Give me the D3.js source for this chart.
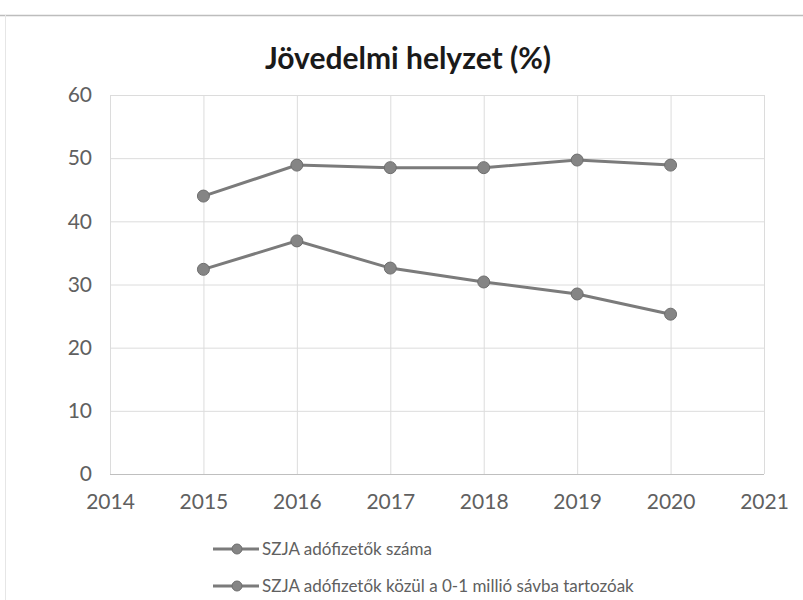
<!DOCTYPE html>
<html><head><meta charset="utf-8">
<script src="https://cdn.jsdelivr.net/npm/d3@7"></script>
<style>body{margin:0;background:#fff}svg{display:block}</style>
</head><body>
<svg id="c" width="803" height="600"></svg>
<script>
const years = [2015, 2016, 2017, 2018, 2019, 2020];
const seriesNames = ["SZJA adófizetők száma", "SZJA adófizetők közül a 0-1 millió sávba tartozóak"];
const szjaAll = [44.0, 48.9, 48.5, 48.5, 49.7, 48.9];
const szjaLow = [32.4, 36.9, 32.6, 30.4, 28.5, 25.3];
const xTicks = [2014, 2015, 2016, 2017, 2018, 2019, 2020, 2021];
const yTicks = [0, 10, 20, 30, 40, 50, 60];
const title = "Jövedelmi helyzet (%)";

(function(){
const svg = d3.select("#c");
const font = "Lato, 'Open Sans', sans-serif";
const pL = 110, pR = 764, pT = 95, pB = 474;
const x = d3.scaleLinear().domain([2014, 2021]).range([pL, pR]);
const y = d3.scaleLinear().domain([0, 60]).range([pB, pT]);

// outer frame
svg.append("line").attr("x1",0).attr("x2",803).attr("y1",15.5).attr("y2",15.5).attr("stroke","#bdbdbd").attr("stroke-width",1.5);
svg.append("line").attr("x1",5.5).attr("x2",5.5).attr("y1",15).attr("y2",600).attr("stroke","#e6e6e6");

svg.append("text").attr("x",408).attr("y",69).attr("text-anchor","middle")
  .attr("font-family",font).attr("font-weight","bold").attr("font-size",30).attr("fill","#1a1a1a").text(title);

// grid
const g = svg.append("g");
g.append("g").attr("transform",`translate(0,${pB})`)
  .call(d3.axisBottom(x).tickValues(xTicks).tickSize(-(pB-pT)).tickFormat(""))
  .call(a=>{a.select(".domain").remove(); a.selectAll("line").attr("stroke","#dcdcdc");});
g.append("g").attr("transform",`translate(${pL},0)`)
  .call(d3.axisLeft(y).tickValues(yTicks).tickSize(-(pR-pL)).tickFormat(""))
  .call(a=>{a.select(".domain").remove(); a.selectAll("line").attr("stroke","#dcdcdc");});
svg.append("line").attr("x1",pL).attr("x2",pR).attr("y1",pB+0.5).attr("y2",pB+0.5).attr("stroke","#bfbfbf");

// tick labels
svg.append("g").attr("transform",`translate(0,${pB})`)
  .call(d3.axisBottom(x).tickValues(xTicks).tickSize(0).tickPadding(20).tickFormat(d3.format("d")))
  .call(a=>{a.select(".domain").remove(); a.selectAll("text").attr("font-family",font).attr("font-size",21).attr("fill","#606060");});
svg.append("g").attr("transform",`translate(${pL},0)`)
  .call(d3.axisLeft(y).tickValues(yTicks).tickSize(0).tickPadding(18))
  .call(a=>{a.select(".domain").remove(); a.selectAll("text").attr("font-family",font).attr("font-size",21).attr("fill","#606060");});

const line = d3.line().x((d,i)=>x(years[i])).y(d=>y(d));
const col = "#7b7b7b";
[szjaAll, szjaLow].forEach(s=>{
  svg.append("path").datum(s).attr("d",line).attr("fill","none").attr("stroke",col).attr("stroke-width",3);
  svg.selectAll(null).data(s).enter().append("circle")
    .attr("cx",(d,i)=>x(years[i])).attr("cy",d=>y(d)).attr("r",6)
    .attr("fill","#858585").attr("stroke","#6e6e6e").attr("stroke-width",1);
});

// legend
const lg = svg.append("g");
seriesNames.forEach((n,i)=>{
  const ly = 549 + i*37;
  lg.append("line").attr("x1",213).attr("x2",259).attr("y1",ly).attr("y2",ly).attr("stroke",col).attr("stroke-width",3);
  lg.append("circle").attr("cx",237).attr("cy",ly).attr("r",5).attr("fill","#858585").attr("stroke","#6e6e6e");
  lg.append("text").attr("x",262).attr("y",ly+6).attr("font-family",font).attr("font-size",17).attr("fill","#606060").text(n);
});
})();
</script>
</body></html>
